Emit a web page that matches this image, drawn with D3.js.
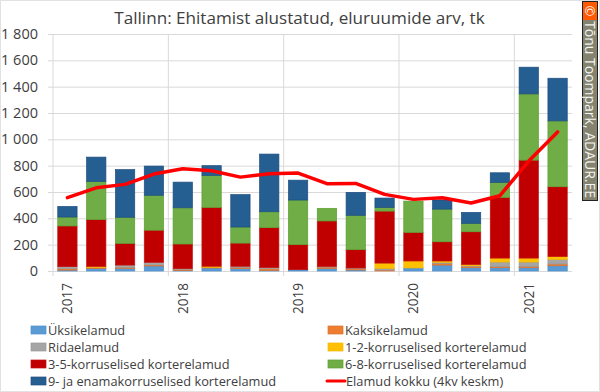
<!DOCTYPE html>
<html>
<head>
<meta charset="utf-8">
<script src="https://cdn.jsdelivr.net/npm/d3@7"></script>
<style>
html, body { margin: 0; padding: 0; background: #fff; }
svg { display: block; }
text { font-family: "Open Sans", "Noto Sans", sans-serif; fill: #404040; }
</style>
</head>
<body>
<svg></svg>
<script>
let quarters = ['2017K1','2017K2','2017K3','2017K4','2018K1','2018K2','2018K3','2018K4','2019K1','2019K2','2019K3','2019K4','2020K1','2020K2','2020K3','2020K4','2021K1','2021K2']
let yearTicks = ['2017K1','2018K1','2019K1','2020K1','2021K1']
let yTicks = [0,200,400,600,800,1000,1200,1400,1600,1800]

let names = ['Üksikelamud','Kaksikelamud','Ridaelamud','1-2-korruselised korterelamud','3-5-korruselised korterelamud','6-8-korruselised korterelamud','9- ja enamakorruselised korterelamud']
let lineName = 'Elamud kokku (4kv keskm)'

let yksik  = [7,20,20,38,5,23,18,5,10,20,8,0,23,45,25,25,25,40]
let kaksik = [10,8,8,8,8,5,10,12,0,10,10,7,0,13,10,8,10,13]
let rida   = [16,0,17,20,5,0,8,10,0,5,5,13,0,8,5,35,33,35]
let yks2   = [0,7,0,0,0,8,0,0,0,0,0,40,53,10,10,30,30,22]
let kolm5  = [309,355,165,244,187,447,176,302,190,345,139,395,217,146,248,461,744,530]
let kuus8  = [68,290,198,265,275,242,122,121,339,96,261,28,238,248,64,114,503,500]
let yheksa = [80,185,362,222,195,75,246,438,151,0,174,71,0,70,83,73,203,324]
let kokku  = [557,632,658,736,777,761,713,739,744,663,665,582,544,557,516,572,835,1056]

let series = [yksik,kaksik,rida,yks2,kolm5,kuus8,yheksa]
let colors = ['#5b9bd5','#ed7d31','#a5a5a5','#ffc000','#c00000','#70ad47','#255e91']
let edges  = ['#4a90d0','#e0702a','#999999','#f5b800','#c41010','#5aa02c','#1f4e80']

let width = 600
let height = 392

let svg = d3.select('svg')
            .attr('width', width)
            .attr('height', height)

svg.append('rect')
    .attr('x', 0.5).attr('y', 0.5)
    .attr('width', width - 1).attr('height', height - 1)
    .attr('fill', '#fff')
    .attr('stroke', '#e2e2e2')

let x = d3.scaleBand()
            .domain(quarters)
            .range([53, 572])
            .paddingInner(0.33)
            .paddingOuter(0.165)

let y = d3.scaleLinear()
            .domain([0, 1800])
            .range([271, 34])

svg.append('text')
    .attr('x', 299.5).attr('y', 24)
    .attr('text-anchor', 'middle')
    .attr('font-size', 17.1)
    .text('Tallinn: Ehitamist alustatud, eluruumide arv, tk')

// horizontal grid comes from the y axis ticks
let yAxis = svg.append('g')
    .attr('transform', 'translate(48,0)')
    .call(d3.axisLeft(y)
        .tickValues(yTicks)
        .tickSize(-524)
        .tickPadding(10)
        .tickFormat(d => d3.format(',')(d).replace(',', ' ')))
yAxis.select('.domain').remove()
yAxis.selectAll('line').attr('stroke', '#d9d9d9')
yAxis.selectAll('text').attr('font-size', 14.5).attr('fill', '#404040').attr('font-family', '"Open Sans", sans-serif')

// year separators
svg.selectAll('.yearline')
    .data(yearTicks)
    .enter()
    .append('line')
    .attr('class', 'yearline')
    .attr('x1', d => x(d) - x.step() * 0.165)
    .attr('x2', d => x(d) - x.step() * 0.165)
    .attr('y1', 34)
    .attr('y2', 276)
    .attr('stroke', '#d9d9d9')

let stack = d3.stack()
    .keys(d3.range(series.length))
    .value((d, k) => series[k][d])

let layers = svg.selectAll('.layer')
    .data(stack(d3.range(quarters.length)))
    .enter()
    .append('g')
    .attr('class', 'layer')
    .attr('fill', (d, i) => colors[i])
    .attr('stroke', (d, i) => edges[i])
    .attr('stroke-width', 0.7)

layers.selectAll('rect')
    .data(d => d)
    .enter()
    .append('rect')
    .filter(d => d[1] > d[0])
    .attr('x', d => x(quarters[d.data]))
    .attr('y', d => y(d[1]))
    .attr('width', x.bandwidth())
    .attr('height', d => y(d[0]) - y(d[1]))

let line = d3.line()
    .x((d, i) => x(quarters[i]) + x.bandwidth() / 2)
    .y(d => y(d))

svg.append('path')
    .attr('d', line(kokku))
    .attr('fill', 'none')
    .attr('stroke', '#ff0000')
    .attr('stroke-width', 3.5)
    .attr('stroke-linecap', 'round')
    .attr('stroke-linejoin', 'round')

// year labels, rotated, under the first bar of every year
let xAxis = svg.append('g')
    .attr('transform', 'translate(0,271)')
    .call(d3.axisBottom(x)
        .tickValues(yearTicks)
        .tickSize(0)
        .tickFormat(d => d.slice(0, 4)))
xAxis.select('.domain').remove()
xAxis.selectAll('text')
    .attr('transform', 'rotate(-90)')
    .attr('text-anchor', 'start')
    .attr('x', -43)
    .attr('y', 0)
    .attr('dy', '0.36em')
    .attr('font-size', 13.6)
    .attr('fill', '#404040')
    .attr('font-family', '"Open Sans", sans-serif')

// legend, filled row by row in two columns
let legendX = [31, 328]
let legendY = [330, 347, 364, 381]

let legend = svg.selectAll('.legend')
    .data(names)
    .enter()
    .append('g')
    .attr('class', 'legend')
    .attr('transform', (d, i) => `translate(${legendX[i % 2]},${legendY[Math.floor(i / 2)]})`)

legend.append('rect')
    .attr('x', 0).attr('y', -4)
    .attr('width', 15).attr('height', 8)
    .attr('fill', (d, i) => colors[i])
    .attr('stroke', (d, i) => edges[i])
    .attr('stroke-width', 0.7)

legend.append('text')
    .attr('x', 17).attr('y', 0)
    .attr('dy', '0.36em')
    .attr('font-size', 12.8)
    .text(d => d)

let lineLegend = svg.append('g')
    .attr('transform', `translate(${legendX[1]},${legendY[3]})`)

lineLegend.append('line')
    .attr('x1', -1).attr('x2', 17)
    .attr('y1', 0).attr('y2', 0)
    .attr('stroke', '#ff0000')
    .attr('stroke-width', 3)
    .attr('stroke-linecap', 'round')

lineLegend.append('text')
    .attr('x', 18).attr('y', 0)
    .attr('dy', '0.36em')
    .attr('font-size', 12.8)
    .text(lineName)

// copyright strip on the right
svg.append('rect')
    .attr('x', 582.5).attr('y', 1.5)
    .attr('width', 15).attr('height', 199)
    .attr('fill', '#83836f')
    .attr('stroke', '#222')

svg.append('rect')
    .attr('x', 583).attr('y', 2)
    .attr('width', 14).attr('height', 18)
    .attr('fill', '#ff5a00')

svg.append('text')
    .attr('transform', 'translate(590,11) rotate(90)')
    .attr('text-anchor', 'middle')
    .attr('dy', '0.36em')
    .attr('font-size', 13)
    .style('fill', '#fff')
    .text('©')

svg.append('text')
    .attr('transform', 'translate(590,21) rotate(90)')
    .attr('dy', '0.36em')
    .attr('font-size', 14)
    .style('fill', '#f4f4f0')
    .text('Tõnu Toompark, ADAUR.EE')
</script>
</body>
</html>
